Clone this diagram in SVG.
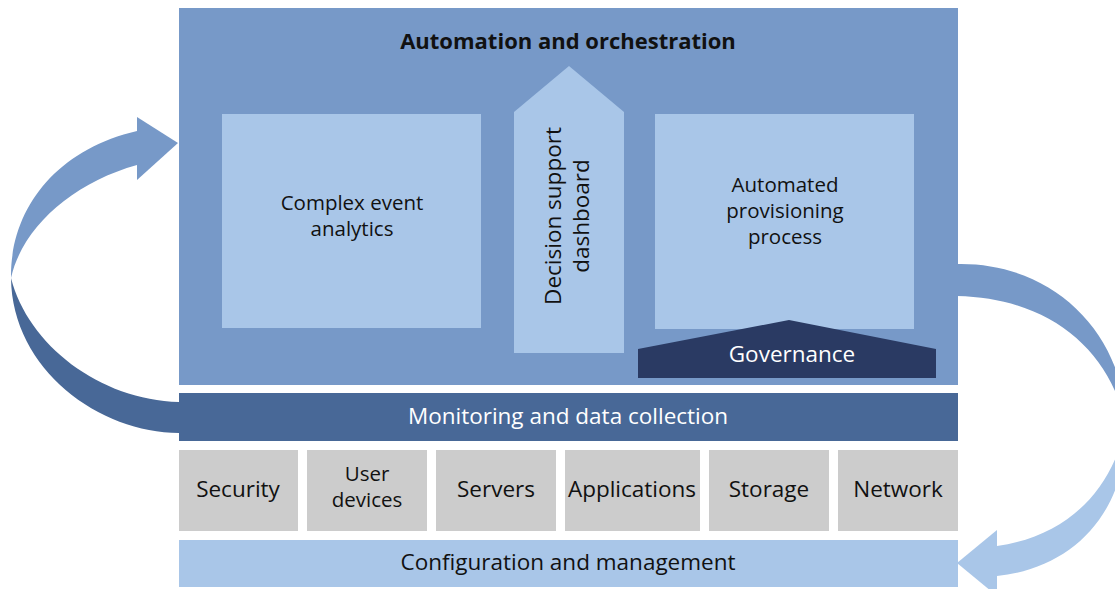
<svg xmlns="http://www.w3.org/2000/svg" width="1115" height="589" viewBox="0 0 1115 589">
<style>
text{font-family:"Open Sans","Noto Sans","Liberation Sans",sans-serif;font-size:22.5px;fill:#111;text-anchor:middle}
.m{font-size:20.5px}
.w{fill:#fff}
.b{font-weight:bold;font-size:22px}
.mid{fill:#7799c8}
.light{fill:#a9c6e8}
.dark{fill:#486897}
.gray{fill:#cccccc}
.gov{fill:#2a3a63}
</style>
<rect width="1115" height="589" fill="#fff"/>
<g id="connectors">
  <g id="left-arrow">
    <path class="dark" d="M11,278 C12,370 100,433 179,433 L179,402 C100,400 28,345 11,278 Z"/>
    <path class="mid" d="M137,131 C55,150 10,210 11,278 C22,228 72,183 137,165 Z"/>
    <polygon class="mid" points="137,117 178,143 137,180"/>
  </g>
  <g id="right-arrow">
    <path class="mid" d="M957,264 C1050,262 1124,330 1126,425 C1110,350 1050,298 957,296 Z"/>
    <path class="light" d="M1126,425 C1128,510 1075,568 997,576 L997,546 C1068,536 1112,490 1126,425 Z"/>
    <polygon class="light" points="997,530 957,563 997,596"/>
  </g>
</g>
<g id="automation">
  <rect class="mid" x="179" y="8" width="779" height="377"/>
  <text class="b" x="568" y="49">Automation and orchestration</text>
</g>
<g id="complex-event">
  <rect class="light" x="222" y="114" width="259" height="214"/>
  <text class="m" x="352" y="210">Complex event</text>
  <text class="m" x="352" y="236">analytics</text>
</g>
<g id="decision-support">
  <polygon class="light" points="514,112 569,66 624,112 624,353 514,353"/>
  <text transform="translate(561,216) rotate(-90)">Decision support</text>
  <text transform="translate(589,216) rotate(-90)">dashboard</text>
</g>
<g id="provisioning">
  <rect class="light" x="655" y="114" width="259" height="215"/>
  <text class="m" x="785" y="192">Automated</text>
  <text class="m" x="785" y="218">provisioning</text>
  <text class="m" x="785" y="244">process</text>
</g>
<g id="governance">
  <polygon class="gov" points="638,349 789,320 936,349 936,378 638,378"/>
  <text class="w" x="792" y="362">Governance</text>
</g>
<g id="monitoring">
  <rect class="dark" x="179" y="393" width="779" height="48"/>
  <text class="w" x="568" y="424">Monitoring and data collection</text>
</g>
<g id="security"><rect class="gray" x="179" y="450" width="119" height="81"/><text x="238" y="497">Security</text></g>
<g id="user-devices"><rect class="gray" x="307" y="450" width="120" height="81"/><text class="m" x="367" y="481">User</text><text class="m" x="367" y="507">devices</text></g>
<g id="servers"><rect class="gray" x="436" y="450" width="120" height="81"/><text x="496" y="497">Servers</text></g>
<g id="applications"><rect class="gray" x="565" y="450" width="135" height="81"/><text x="632" y="497">Applications</text></g>
<g id="storage"><rect class="gray" x="709" y="450" width="120" height="81"/><text x="769" y="497">Storage</text></g>
<g id="network"><rect class="gray" x="838" y="450" width="120" height="81"/><text x="898" y="497">Network</text></g>
<g id="configuration">
  <rect class="light" x="179" y="540" width="779" height="47"/>
  <text x="568" y="570">Configuration and management</text>
</g>
</svg>
